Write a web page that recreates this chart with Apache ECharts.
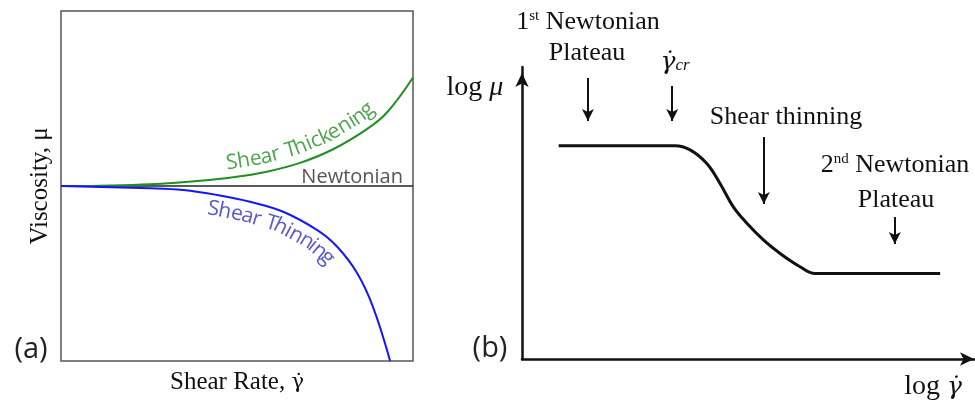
<!DOCTYPE html>
<html>
<head>
<meta charset="utf-8">
<script src="https://cdn.jsdelivr.net/npm/echarts@6/dist/echarts.min.js"></script>
<style>
  html, body { margin: 0; padding: 0; background: #fff; }
  #main { width: 975px; height: 404px; }
</style>
</head>
<body>
<div id="main"></div>
<script>
// (a) viscosity vs shear rate, newtonian level = 0
const thickX = [0, 0.111, 0.253, 0.395, 0.489, 0.585, 0.679, 0.773, 0.869, 0.926, 1.0];
const thickY = [0, 0.002, 0.01, 0.03, 0.05, 0.082, 0.132, 0.21, 0.325, 0.42, 0.62];
const thinX = [0, 0.253, 0.347, 0.443, 0.537, 0.631, 0.727, 0.784, 0.841, 0.886, 0.935];
const thinY = [0, -0.013, -0.023, -0.051, -0.09, -0.147, -0.251, -0.346, -0.497, -0.689, -1.0];
const newtX = [0, 1];
const newtY = [0, 0];

// (b) log viscosity vs log shear rate
const logRate = [8.0, 33.4, 36.7, 40.3, 43.2, 46.1, 49.1, 52.7, 56.3, 60.7, 64.0, 91.3];
const logVisc = [73, 73, 71.6, 67.0, 60.2, 52.2, 46.5, 40.8, 36.2, 31.6, 29.3, 29.3];

// (b) pointer arrows (x, start y, end y)
const arrowX = [14.4, 32.8, 52.8, 81.4];
const arrowFrom = [96.2, 93.5, 76.0, 48.6];
const arrowTo = [81.5, 81.5, 53.1, 39.4];

const serif = '"Liberation Serif", "Times New Roman", serif';
const greek = '"DejaVu Serif", serif';
const sans = '"Open Sans", "Noto Sans", sans-serif';

const zip = (xs, ys) => xs.map((x, i) => [x, ys[i]]);

let chart = echarts.init(document.getElementById('main'));

const plainAxis = {
    type: 'value',
    axisTick: { show: false },
    axisLabel: { show: false },
    splitLine: { show: false }
};

chart.setOption({
    animation: false,
    grid: [
        { left: 61, top: 11, width: 352, height: 350, show: true, borderColor: '#555', borderWidth: 1.5 },
        { left: 522, top: 67, right: -5, bottom: 45, outerBoundsMode: 'none' }
    ],
    xAxis: [
        Object.assign({}, plainAxis, {
            gridIndex: 0, min: 0, max: 1,
            axisLine: { show: false },
            name: 'Shear Rate, {g|γ̇}', nameLocation: 'middle', nameGap: 9,
            nameTextStyle: {
                fontFamily: serif, fontSize: 25, color: '#111', verticalAlign: 'top',
                rich: { g: { fontFamily: greek, fontSize: 21, color: '#111' } }
            }
        }),
        Object.assign({}, plainAxis, {
            gridIndex: 1, min: 0, max: 100,
            axisLine: {
                show: true, onZero: false, symbol: ['none', 'arrow'],
                symbolSize: [10, 14], symbolOffset: [0, -6],
                lineStyle: { color: '#111', width: 2.5 }
            }
        })
    ],
    yAxis: [
        Object.assign({}, plainAxis, {
            gridIndex: 0, min: -1, max: 1,
            axisLine: { show: false },
            name: 'Viscosity, μ', nameLocation: 'middle', nameGap: 8,
            nameTextStyle: { fontFamily: serif, fontSize: 25, color: '#111', verticalAlign: 'bottom' }
        }),
        Object.assign({}, plainAxis, {
            gridIndex: 1, min: 0, max: 100,
            axisLine: {
                show: true, onZero: false, symbol: ['none', 'arrow'],
                symbolSize: [10, 14], symbolOffset: [0, -6],
                lineStyle: { color: '#111', width: 2.5 }
            }
        })
    ],
    series: [
        {
            name: 'Newtonian', type: 'line', xAxisIndex: 0, yAxisIndex: 0,
            data: zip(newtX, newtY), showSymbol: false,
            lineStyle: { color: '#222', width: 1.5 }
        },
        {
            name: 'Shear Thickening', type: 'line', xAxisIndex: 0, yAxisIndex: 0,
            data: zip(thickX, thickY), showSymbol: false, smooth: 0.4,
            lineStyle: { color: '#1f8f1f', width: 2 }
        },
        {
            name: 'Shear Thinning', type: 'line', xAxisIndex: 0, yAxisIndex: 0,
            data: zip(thinX, thinY), showSymbol: false, smooth: 0.4,
            lineStyle: { color: '#1414ff', width: 2 }
        },
        {
            name: 'flow curve', type: 'line', xAxisIndex: 1, yAxisIndex: 1,
            data: zip(logRate, logVisc), showSymbol: false, smooth: 0.4,
            lineStyle: { color: '#111', width: 3 },
            markLine: {
                silent: true,
                symbol: ['none', 'arrow'],
                symbolSize: [9, 12],
                label: { show: false },
                lineStyle: { color: '#111', width: 2, type: 'solid' },
                data: arrowX.map((x, i) => [{ coord: [x, arrowFrom[i]] }, { coord: [x, arrowTo[i]] }])
            }
        }
    ]
});

// letters laid along a curve of grid 0
let ctx = document.createElement('canvas').getContext('2d');
function alongCurve(text, xs, ys, startX, gap, above, size, color) {
    const px = xs.map((x, i) => chart.convertToPixel({ gridIndex: 0 }, [x, ys[i]]));
    const cum = [0];
    for (let i = 1; i < px.length; i++) {
        cum.push(cum[i - 1] + Math.hypot(px[i][0] - px[i - 1][0], px[i][1] - px[i - 1][1]));
    }
    const at = s => {
        let i = 1;
        while (i < px.length - 1 && cum[i] < s) i++;
        const t = (s - cum[i - 1]) / (cum[i] - cum[i - 1]);
        return [px[i - 1][0] + t * (px[i][0] - px[i - 1][0]), px[i - 1][1] + t * (px[i][1] - px[i - 1][1])];
    };
    const sx = chart.convertToPixel({ gridIndex: 0 }, [startX, 0])[0];
    let s = 0;
    while (at(s)[0] < sx) s += 0.5;
    ctx.font = size + 'px ' + sans;
    const els = [];
    for (const ch of text) {
        const w = ctx.measureText(ch).width;
        const a = at(s), b = at(s + w), m = at(s + w / 2);
        const ang = Math.atan2(-(b[1] - a[1]), b[0] - a[0]);
        const nx = -Math.sin(ang), ny = -Math.cos(ang);
        const k = above ? gap : -gap;
        els.push({
            type: 'text', silent: true,
            x: m[0] + nx * k, y: m[1] + ny * k, rotation: ang,
            style: {
                text: ch, fill: color, fontSize: size, fontFamily: sans,
                align: 'center', verticalAlign: above ? 'bottom' : 'top'
            }
        });
        s += w;
    }
    return els;
}

const txt = (x, y, text, size, family, color, extra) => ({
    type: 'text', silent: true, x: x, y: y,
    style: Object.assign({
        text: text, fontSize: size, fontFamily: family, fill: color || '#111',
        align: 'center', verticalAlign: 'middle'
    }, extra || {})
});

const r = (size, italic, family) => ({
    fontSize: size, fontFamily: family || serif, fontStyle: italic ? 'italic' : 'normal', fill: '#111'
});

let labels = [
    txt(31, 350, '(a)', 29, sans, '#222'),
    txt(490, 349, '(b)', 29, sans, '#222'),
    txt(403, 187, 'Newtonian', 20, sans, '#555', { align: 'right', verticalAlign: 'bottom' }),
    txt(588, 22, '{n|1}{sup|st}{n| Newtonian}', 26, serif, '#111', {
        rich: { n: r(26), sup: Object.assign(r(15), { verticalAlign: 'top' }) }
    }),
    txt(587, 53, 'Plateau', 26, serif),
    txt(675, 62, '{g|γ̇}{sub|cr}', 26, serif, '#111', {
        rich: { g: r(25, true, greek), sub: Object.assign(r(17, true), { verticalAlign: 'bottom' }) }
    }),
    txt(786, 117, 'Shear thinning', 26, serif),
    txt(895, 165, '{n|2}{sup|nd}{n| Newtonian}', 26, serif, '#111', {
        rich: { n: r(26), sup: Object.assign(r(15), { verticalAlign: 'top' }) }
    }),
    txt(896, 200, 'Plateau', 26, serif),
    txt(475, 88, '{n|log }{i|μ}', 26, serif, '#111', { rich: { n: r(28), i: r(28, true) } }),
    txt(933, 387, '{n|log }{i|γ̇}', 26, serif, '#111', { rich: { n: r(28), i: r(25, true, greek) } })
];

labels = labels
    .concat(alongCurve('Shear Thickening', thickX, thickY, 0.474, 4, true, 21, '#4ea54e'))
    .concat(alongCurve('Shear Thinning', thinX, thinY, 0.423, 4, false, 21, '#5858d0'));

chart.setOption({ graphic: { elements: labels } });
</script>
</body>
</html>
